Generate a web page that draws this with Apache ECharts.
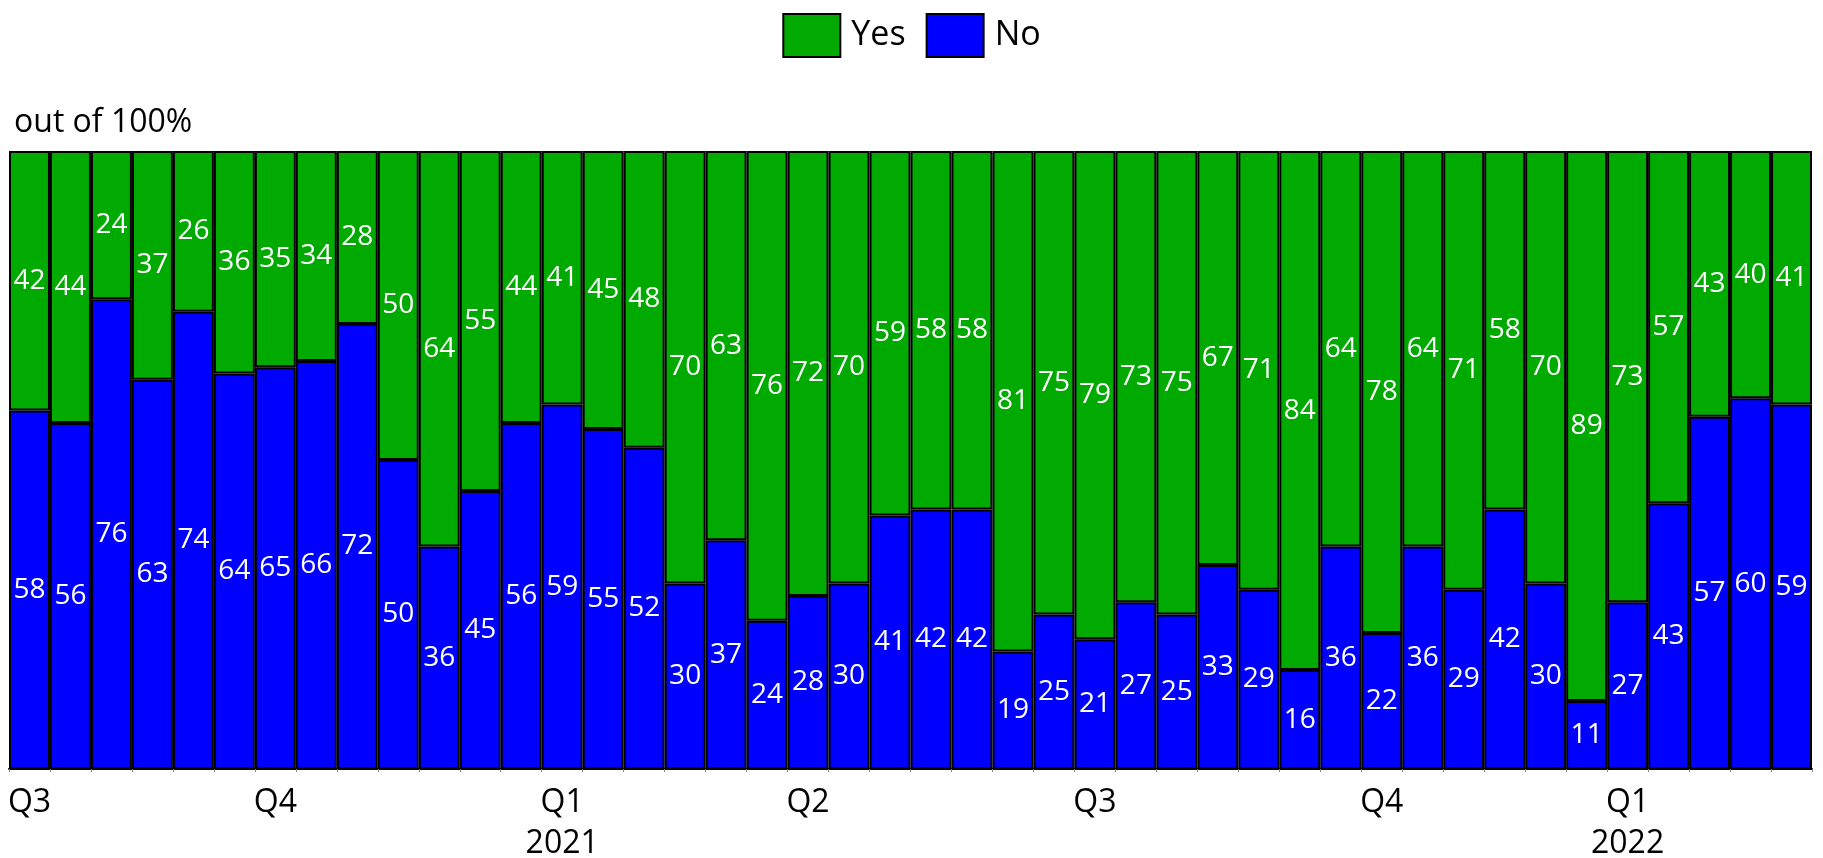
<!DOCTYPE html>
<html>
<head>
<meta charset="utf-8">
<script src="https://cdn.jsdelivr.net/npm/echarts@6/dist/echarts.min.js"></script>
<style>
html,body{margin:0;padding:0;background:#fff;}
#chart{width:1823px;height:858px;}
</style>
</head>
<body>
<div id="chart"></div>
<script>
const categories = ['Q3','','','','','','Q4','','','','','','','Q1\n2021','','','','','','Q2','','','','','','','Q3','','','','','','','Q4','','','','','','Q1\n2022','','','',''];
const yesValues = [42,44,24,37,26,36,35,34,28,50,64,55,44,41,45,48,70,63,76,72,70,59,58,58,81,75,79,73,75,67,71,84,64,78,64,71,58,70,89,73,57,43,40,41];
const noValues  = [58,56,76,63,74,64,65,66,72,50,36,45,56,59,55,52,30,37,24,28,30,41,42,42,19,25,21,27,25,33,29,16,36,22,36,29,42,30,11,27,43,57,60,59];
const yAxisTitle = 'out of 100%';

const FONT = "'Open Sans', sans-serif";
const chart = echarts.init(document.getElementById('chart'), null, {renderer:'canvas'});
const labelStyle = {show:true, position:'inside', color:'#fff', fontSize:28, fontFamily:FONT};
chart.setOption({
  animation:false,
  title:{text:yAxisTitle, left:9, top:102, textStyle:{fontSize:32, fontWeight:'normal', color:'#000', fontFamily:FONT}},
  legend:{data:['Yes','No'], top:8, left:'center', icon:'rect', itemWidth:57, itemHeight:43, itemGap:20,
    itemStyle:{borderColor:'#000', borderWidth:2},
    textStyle:{fontSize:34, color:'#000', fontFamily:FONT, padding:[0,0,0,6]}},
  grid:{left:9, right:11, top:151, bottom:89, containLabel:false, outerBoundsMode:'none'},
  xAxis:{type:'category', data:categories,
    axisLine:{show:true, lineStyle:{color:'#000', width:2}},
    axisTick:{show:true, length:3, lineStyle:{color:'#888'}},
    axisLabel:{interval:0, margin:13, fontSize:32, lineHeight:41, color:'#000', fontFamily:FONT}},
  yAxis:{type:'value', min:0, max:100, show:false, splitLine:{show:false}},
  series:[
    {name:'No', type:'bar', stack:'t', data:noValues, barCategoryGap:'0%',
      itemStyle:{color:'#0000FF', borderColor:'#000', borderWidth:2}, label:labelStyle},
    {name:'Yes', type:'bar', stack:'t', data:yesValues, barCategoryGap:'0%',
      itemStyle:{color:'#00AA00', borderColor:'#000', borderWidth:2}, label:labelStyle}
  ]
});
</script>
</body>
</html>
